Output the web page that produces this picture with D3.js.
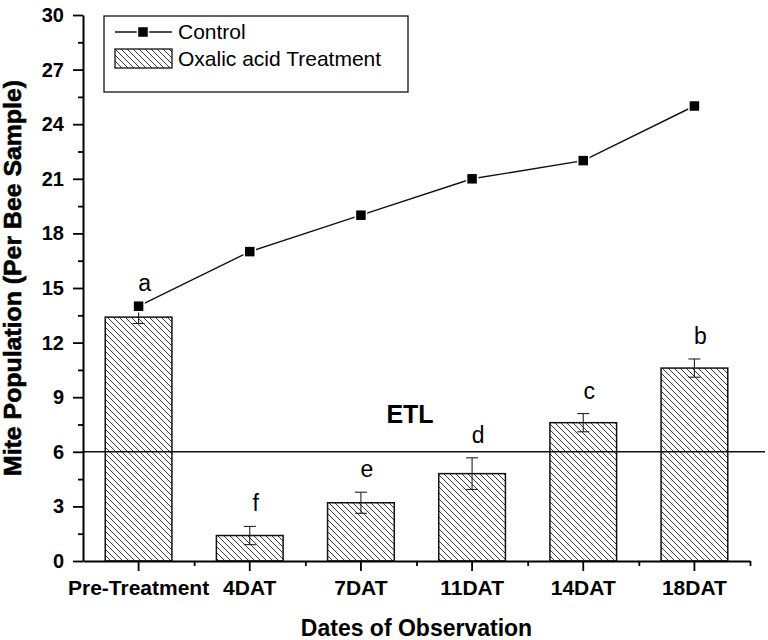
<!DOCTYPE html>
<html>
<head>
<meta charset="utf-8">
<script src="https://cdn.jsdelivr.net/npm/d3@7"></script>
<style>
  body { margin: 0; background: #fff; }
  svg { display: block; font-family: "Liberation Sans", Arial, sans-serif; }
</style>
</head>
<body>
<svg id="chart" width="768" height="640"></svg>
<script>
// ---- DATA ----
const categories      = ["Pre-Treatment", "4DAT", "7DAT", "11DAT", "14DAT", "18DAT"];
const controlValues   = [14, 17, 19, 21, 22, 25];
const treatmentValues = [13.4, 1.4, 3.2, 4.8, 7.6, 10.6];
const treatmentErrors = [0.35, 0.5, 0.58, 0.87, 0.5, 0.5];
const groupLetters    = ["a", "f", "e", "d", "c", "b"];
const yTicks          = [0, 3, 6, 9, 12, 15, 18, 21, 24, 27, 30];
const etlValue        = 6;

// ---- LAYOUT ----
const svg = d3.select("#chart");
const plotL = 83, plotR = 750, plotT = 15, plotB = 561;

const x = d3.scaleBand().domain(categories).range([plotL, plotR])
  .paddingInner(0.4).paddingOuter(0.2);
const y = d3.scaleLinear().domain([0, 30]).range([plotB, plotT]);
const cx = c => x(c) + x.bandwidth() / 2;

// hatch pattern for bars
const defs = svg.append("defs");
defs.append("pattern")
  .attr("id", "hatch")
  .attr("patternUnits", "userSpaceOnUse")
  .attr("width", 6).attr("height", 6)
  .call(p => {
    p.append("rect").attr("width", 6).attr("height", 6).attr("fill", "#fff");
    p.append("path").attr("d", "M-1,-1 L7,7 M-4,2 L2,8 M4,-4 L10,2")
      .attr("stroke", "#222").attr("stroke-width", 0.9);
  });

// ---- BARS ----
svg.append("g").selectAll("rect")
  .data(categories)
  .join("rect")
  .attr("x", d => x(d))
  .attr("y", (d, i) => y(treatmentValues[i]))
  .attr("width", x.bandwidth())
  .attr("height", (d, i) => y(0) - y(treatmentValues[i]))
  .attr("fill", "url(#hatch)")
  .attr("stroke", "#111")
  .attr("stroke-width", 1.5);

// error bars
const eb = svg.append("g").attr("stroke", "#222").attr("stroke-width", 1.1);
categories.forEach((c, i) => {
  const hi = y(treatmentValues[i] + treatmentErrors[i]);
  const lo = y(treatmentValues[i] - treatmentErrors[i]);
  eb.append("line").attr("x1", cx(c)).attr("x2", cx(c)).attr("y1", hi).attr("y2", lo);
  eb.append("line").attr("x1", cx(c) - 6).attr("x2", cx(c) + 6).attr("y1", hi).attr("y2", hi);
  eb.append("line").attr("x1", cx(c) - 6).attr("x2", cx(c) + 6).attr("y1", lo).attr("y2", lo);
});

// ETL line
svg.append("line")
  .attr("x1", plotL).attr("x2", 765)
  .attr("y1", y(etlValue)).attr("y2", y(etlValue))
  .attr("stroke", "#111").attr("stroke-width", 1.5);
svg.append("text")
  .attr("x", 410).attr("y", 423)
  .attr("text-anchor", "middle")
  .attr("font-size", 25).attr("font-weight", "bold")
  .text("ETL");

// ---- CONTROL LINE ----
const line = d3.line().x((d, i) => cx(categories[i])).y(d => y(d));
svg.append("path")
  .datum(controlValues)
  .attr("d", line)
  .attr("fill", "none")
  .attr("stroke", "#111")
  .attr("stroke-width", 1.4);
svg.append("g").selectAll("rect")
  .data(controlValues)
  .join("rect")
  .attr("x", (d, i) => cx(categories[i]) - 5.5)
  .attr("y", d => y(d) - 5.5)
  .attr("width", 11).attr("height", 11)
  .attr("fill", "#000")
  .attr("stroke", "#fff").attr("stroke-width", 1.5);

// significance letters
svg.append("g").selectAll("text")
  .data(groupLetters)
  .join("text")
  .attr("x", (d, i) => cx(categories[i]) + 6)
  .attr("y", (d, i) => Math.min(
      y(treatmentValues[i] + treatmentErrors[i]),
      i === 0 ? y(controlValues[i]) : Infinity) - 15)
  .attr("text-anchor", "middle")
  .attr("font-size", 23)
  .text(d => d);

// ---- AXES ----
const yAxis = svg.append("g")
  .attr("transform", `translate(${plotL},0)`)
  .call(d3.axisLeft(y).tickValues(yTicks).tickSize(10).tickSizeOuter(0).tickPadding(9));
svg.append("g")
  .attr("transform", `translate(${plotL},0)`)
  .call(d3.axisLeft(y).tickValues(yTicks.slice(1).map(t => t - 1.5)).tickSize(5).tickFormat(""))
  .call(g => g.select(".domain").remove());
yAxis.selectAll("text")
  .attr("font-size", 20).attr("font-weight", "bold")
  .attr("font-family", "Liberation Sans, Arial, sans-serif").attr("fill", "#000");

const xAxis = svg.append("g")
  .attr("transform", `translate(0,${plotB})`)
  .call(d3.axisBottom(x).tickSize(10).tickSizeOuter(0).tickPadding(9));
const bounds = categories.map(c => cx(c) + x.step() / 2);
svg.append("g")
  .attr("transform", `translate(0,${plotB})`)
  .call(d3.axisBottom(d3.scaleLinear().domain([plotL, plotR]).range([plotL, plotR]))
    .tickValues(bounds).tickSize(5).tickFormat(""))
  .call(g => g.select(".domain").remove());
xAxis.selectAll("text")
  .attr("font-size", 21).attr("font-weight", "bold")
  .attr("font-family", "Liberation Sans, Arial, sans-serif").attr("fill", "#000");

svg.selectAll(".domain").attr("stroke", "#000").attr("stroke-width", 2);
svg.selectAll(".tick line").attr("stroke", "#000").attr("stroke-width", 1.8);

// axis titles
svg.append("text")
  .attr("transform", "translate(21,278) rotate(-90)")
  .attr("text-anchor", "middle")
  .attr("font-size", 24).attr("font-weight", "bold")
  .attr("stroke", "#000").attr("stroke-width", 0.6)
  .attr("textLength", 396).attr("lengthAdjust", "spacingAndGlyphs")
  .text("Mite Population (Per Bee Sample)");
svg.append("text")
  .attr("x", (plotL + plotR) / 2).attr("y", 636)
  .attr("text-anchor", "middle")
  .attr("font-size", 23).attr("font-weight", "bold")
  .text("Dates of Observation");

// ---- LEGEND ----
const lg = svg.append("g");
lg.append("rect")
  .attr("x", 104).attr("y", 16).attr("width", 304).attr("height", 76)
  .attr("fill", "#fff").attr("stroke", "#111").attr("stroke-width", 1.3);
lg.append("line")
  .attr("x1", 115).attr("x2", 172).attr("y1", 32).attr("y2", 32)
  .attr("stroke", "#111").attr("stroke-width", 1.4);
lg.append("rect")
  .attr("x", 137.5).attr("y", 26.5).attr("width", 11).attr("height", 11)
  .attr("fill", "#000").attr("stroke", "#fff").attr("stroke-width", 1.5);
lg.append("rect")
  .attr("x", 115).attr("y", 49).attr("width", 57).attr("height", 19)
  .attr("fill", "url(#hatch)").attr("stroke", "#111").attr("stroke-width", 1.3);
lg.append("text").attr("x", 178).attr("y", 39).attr("font-size", 21).text("Control");
lg.append("text").attr("x", 178).attr("y", 66).attr("font-size", 21).text("Oxalic acid Treatment");
</script>
</body>
</html>
